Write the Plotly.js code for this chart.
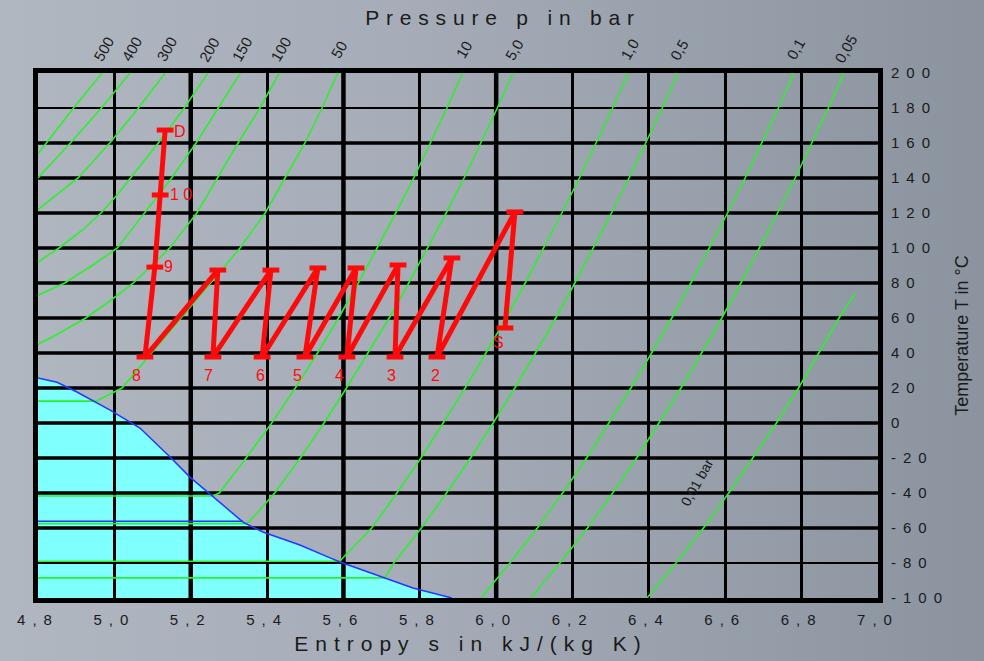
<!DOCTYPE html>
<html>
<head>
<meta charset="utf-8">
<script src="https://cdn.plot.ly/plotly-3.0.1.min.js"></script>
<style>
html,body{margin:0;padding:0;}
body{width:984px;height:661px;overflow:hidden;
background:linear-gradient(90deg,#b1b7c1 0%,#a6adb8 40%,#969eaa 75%,#8b939f 100%);}
#chart{width:984px;height:661px;}
text.gtitle{letter-spacing:6.8px;}
text.xtitle{letter-spacing:7px;transform:translate(13px,3px);}
g.xtick text{letter-spacing:7px;}
g.ytick text{letter-spacing:7px;}
</style>
</head>
<body>
<div id="chart"></div>
<script>
// ---------- axis ticks ----------
const sTicks = [4.8,5.0,5.2,5.4,5.6,5.8,6.0,6.2,6.4,6.6,6.8,7.0];
const sTickLabels = ['4,8','5,0','5,2','5,4','5,6','5,8','6,0','6,2','6,4','6,6','6,8','7,0'];
const tTicks = [200,180,160,140,120,100,80,60,40,20,0,-20,-40,-60,-80,-100];
const tTickLabels = ['200','180','160','140','120','100','80','60','40','20','0','-20','-40','-60','-80','-100'];

// ---------- saturation boundary (two-phase / solid region) ----------
const boundaryS = [4.800,4.850,4.902,4.989,5.067,5.146,5.198,5.269,5.337,5.389,5.486,5.565,5.591,5.782,5.884];
const boundaryT = [25.7,23.3,17.7,7.4,-2.9,-19.4,-30.9,-44.0,-56.6,-62.3,-69.7,-77.1,-79.4,-94.3,-100];
const tripleS = [4.800,5.337];
const tripleT = [-56.2,-56.2];

// ---------- isobars (entropy s, temperature T) ----------
const iso500S = [4.968,4.893,4.822,4.800];
const iso500T = [200,180,160,154];
const iso400S = [5.041,4.966,4.885,4.800];
const iso400T = [200,180,160,140];
const iso300S = [5.133,5.063,4.988,4.905,4.800];
const iso300T = [200,180,160,140,122];
const iso200S = [5.245,5.183,5.115,5.043,5.006,4.965,4.915,4.855,4.820,4.800];
const iso200T = [200,180,160,140,130,120,110,100,95,92];
const iso150S = [5.330,5.273,5.214,5.150,5.080,5.008,4.942,4.870,4.830,4.800];
const iso150T = [200,180,160,140,120,100,90,80,76,73];
const iso100S = [5.432,5.381,5.324,5.269,5.216,5.145,5.050,4.990,4.925,4.845,4.800];
const iso100T = [200,180,160,140,120,100,80,70,60,50,45];
const iso50S = [4.800,4.952,5.020,5.098,5.175,5.252,5.329,5.395,5.447,5.499,5.544,5.585];
const iso50T = [12.5,12.5,20,40,60,80,100,120,140,160,180,200];
const iso10S = [4.800,5.257,5.275,5.345,5.412,5.474,5.532,5.587,5.639,5.689,5.737,5.784,5.828,5.871,5.912];
const iso10T = [-41.7,-41.7,-40,-20,0,20,40,60,80,100,120,140,160,180,200];
const iso5S = [4.800,5.345,5.355,5.420,5.487,5.549,5.608,5.665,5.720,5.771,5.821,5.869,5.916,5.960,6.003,6.044];
const iso5T = [-57.5,-57.5,-56,-40,-20,0,20,40,60,80,100,120,140,160,180,200];
const iso1S = [4.800,5.590,5.674,5.740,5.803,5.862,5.919,5.973,6.026,6.076,6.125,6.172,6.218,6.262,6.305,6.346];
const iso1T = [-79,-79,-60,-40,-20,0,20,40,60,80,100,120,140,160,180,200];
const iso05S = [4.800,5.708,5.732,5.804,5.870,5.933,5.992,6.049,6.103,6.156,6.206,6.255,6.302,6.348,6.392,6.435,6.476];
const iso05T = [-88.5,-88.5,-80,-60,-40,-20,0,20,40,60,80,100,120,140,160,180,200];
const iso01S = [5.960,6.036,6.108,6.174,6.237,6.296,6.353,6.407,6.460,6.510,6.559,6.606,6.652,6.696,6.739,6.780];
const iso01T = [-100,-80,-60,-40,-20,0,20,40,60,80,100,120,140,160,180,200];
const iso005S = [6.091,6.167,6.239,6.305,6.368,6.427,6.484,6.538,6.591,6.641,6.690,6.737,6.783,6.827,6.870,6.911];
const iso005T = [-100,-80,-60,-40,-20,0,20,40,60,80,100,120,140,160,180,200];
const iso001S = [6.395,6.471,6.543,6.609,6.672,6.734,6.792,6.846,6.898,6.940];
const iso001T = [-100,-80,-60,-40,-20,0,20,40,60,74];
const pressureLabels = ['500','400','300','200','150','100','50','10','5,0','1,0','0,5','0,1','0,05'];
const lowLabel = '0,01 bar';
const lowLabelAt = [6.526,-33.7];

// ---------- compression process ----------
const pathS = [6.023,6.049,5.845,5.884,5.735,5.743,5.609,5.633,5.499,5.533,5.387,5.410,5.258,5.271,5.080,5.106,5.120,5.133];
const pathT = [54.3,120.6,37.7,94.3,37.7,90.3,37.7,88.6,37.7,88.6,37.7,87.4,37.7,87.4,37.7,89.1,130.3,167.4];
const pointLabels = ['S','','2','','3','','4','','5','','6','','7','','8','9','1 0','D'];

// ---------- styling helpers (not data) ----------
const labelShift = {'S':[-6,-15],'2':[-2,-18],'3':[-4,-18],'4':[-7,-18],'5':[-7,-18],'6':[-2,-18],
  '7':[-4,-18],'8':[-8,-18],'9':[14,1],'1 0':[21,0],'D':[15,-1]};
const green = 'rgb(45,240,45)';
const red = 'rgb(255,10,10)';

const isoS = [iso500S,iso400S,iso300S,iso200S,iso150S,iso100S,iso50S,iso10S,iso5S,iso1S,iso05S,iso01S,iso005S,iso001S];
const isoT = [iso500T,iso400T,iso300T,iso200T,iso150T,iso100T,iso50T,iso10T,iso5T,iso1T,iso05T,iso01T,iso005T,iso001T];

const traces = [];
isoS.forEach((s,i)=>{
  traces.push({type:'scatter',mode:'lines',x:s,y:isoT[i],line:{color:green,width:1.6},hoverinfo:'skip'});
});
traces.push({type:'scatter',mode:'lines',x:boundaryS,y:boundaryT,line:{color:'rgb(35,55,255)',width:1.5},hoverinfo:'skip'});
traces.push({type:'scatter',mode:'lines',x:tripleS,y:tripleT,line:{color:'rgb(35,55,255)',width:1.5},hoverinfo:'skip'});
traces.push({type:'scatter',mode:'lines+markers',x:pathS,y:pathT,
  line:{color:red,width:5},
  marker:{symbol:'line-ew',size:12,color:red,line:{color:red,width:5}}});

// cyan region shape from the boundary data
let fillPath = 'M ' + boundaryS.map((s,i)=>s+','+boundaryT[i]).join(' L ');
fillPath += ' L ' + boundaryS[0] + ',' + boundaryT[boundaryT.length-1] + ' Z';

const shapes = [{type:'path',path:fillPath,xref:'x',yref:'y',layer:'below',
  fillcolor:'rgb(128,255,255)',line:{width:0}}];
// heavier grid lines
[5.2,5.6,6.0].forEach(v=>shapes.push({type:'line',xref:'x',yref:'y',x0:v,x1:v,y0:-100,y1:200,layer:'below',line:{color:'#000',width:4.5}}));
tTicks.filter(v=>v<180 && v>-80).forEach(v=>{
  shapes.push({type:'line',xref:'x',yref:'y',x0:4.8,x1:7.0,y0:v,y1:v,layer:'below',line:{color:'#000',width:3.5}});
});

const annotations = [];
pressureLabels.forEach((lab,i)=>{
  const s = isoS[i], T = isoT[i];
  const k = T.indexOf(Math.max(...T));
  annotations.push({x:s[k],y:T[k],xref:'x',yref:'y',text:lab,showarrow:false,
    textangle:-60,xshift:1,yshift:24,font:{size:15,color:'#1a1a1a'}});
});
annotations.push({x:lowLabelAt[0],y:lowLabelAt[1],xref:'x',yref:'y',text:lowLabel,showarrow:false,
  textangle:-61,font:{size:14,color:'#1a1a1a'}});
pointLabels.forEach((lab,i)=>{
  if(!lab) return;
  const sh = labelShift[lab];
  annotations.push({x:pathS[i],y:pathT[i],xref:'x',yref:'y',text:lab,showarrow:false,
    xshift:sh[0],yshift:sh[1],font:{size:16,color:red}});
});

const layout = {
  width:984,height:661,
  margin:{l:38,r:106,t:73,b:63,pad:0},
  paper_bgcolor:'rgba(0,0,0,0)',plot_bgcolor:'rgba(0,0,0,0)',
  showlegend:false,
  font:{family:'"Liberation Sans", Arial, sans-serif',color:'#1a1a1a'},
  title:{text:'Pressure p in bar',font:{size:21,color:'#1a1a1a'},x:503/984,xanchor:'center',y:1-18/661,yanchor:'middle'},
  xaxis:{range:[4.8,7.0],autorange:false,tickvals:sTicks,ticktext:sTickLabels,ticks:'',
    showgrid:true,gridcolor:'#000',gridwidth:3,zeroline:false,
    showline:true,linecolor:'#000',linewidth:5,mirror:true,
    tickfont:{size:15,color:'#1a1a1a'},ticklabelstandoff:4,
    title:{text:'Entropy s in kJ/(kg K)',font:{size:21,color:'#1a1a1a'},standoff:8}},
  yaxis:{range:[-100,200],autorange:false,side:'right',tickvals:tTicks,ticktext:tTickLabels,ticks:'',
    showgrid:true,gridcolor:'#000',gridwidth:2,zeroline:false,
    showline:true,linecolor:'#000',linewidth:5,mirror:true,
    tickfont:{size:15,color:'#1a1a1a'},ticklabelstandoff:5,
    title:{text:'Temperature T in °C',font:{size:18,color:'#1a1a1a'},standoff:9}},
  shapes:shapes,
  annotations:annotations
};

Plotly.newPlot('chart',traces,layout,{displayModeBar:false,staticPlot:true});
</script>
</body>
</html>
